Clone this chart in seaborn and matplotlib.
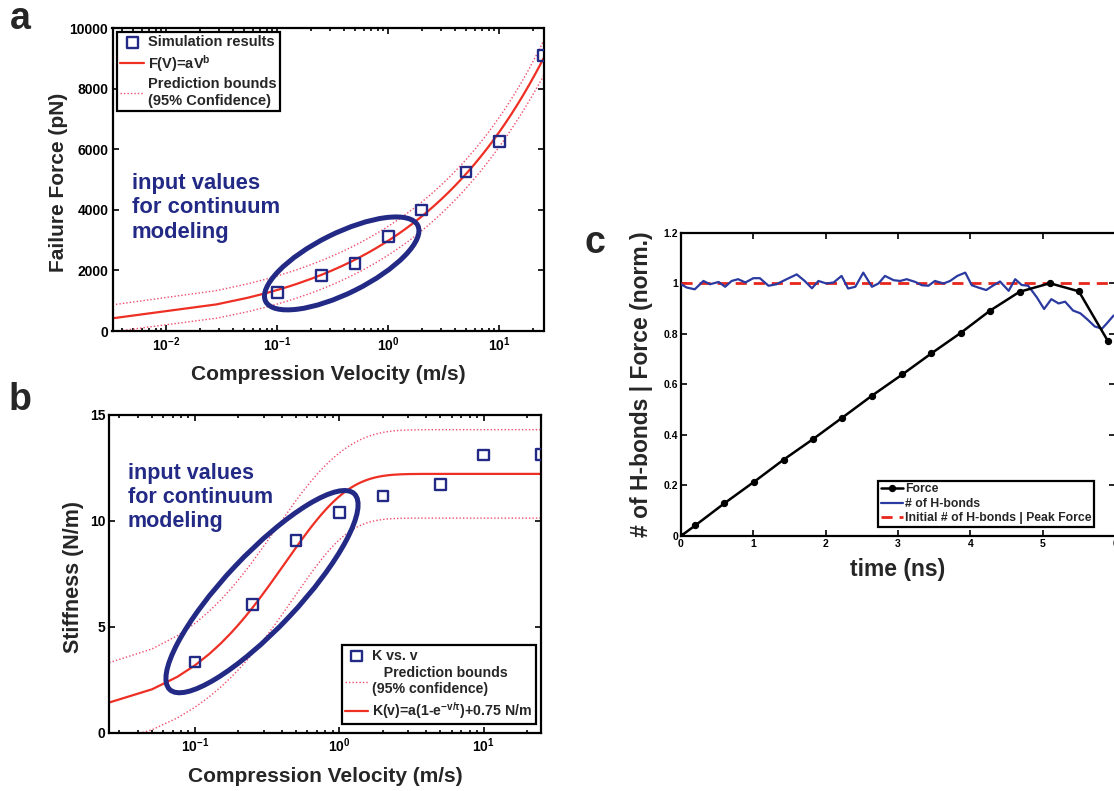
import numpy as np
import matplotlib
matplotlib.use("Agg")
import matplotlib.pyplot as plt
import matplotlib.patches as mpatches
import matplotlib.transforms as mtransforms
from matplotlib.ticker import FixedLocator, FuncFormatter, LogLocator, NullFormatter, LogFormatterSciNotation
import seaborn as sns

# ---------------- data ----------------
velocity_a = [0.1, 0.25, 0.5, 1, 2, 5, 10, 25]
failure_force = [1270, 1830, 2240, 3110, 4000, 5250, 6270, 9110]

velocity_b = [0.1, 0.25, 0.5, 1, 2, 5, 10, 25]
stiffness = [3.34, 6.05, 9.09, 10.40, 11.17, 11.72, 13.11, 13.12]
stiffness_offset = 0.75

force_time = [0, 0.2, 0.6, 1.01, 1.42, 1.83, 2.23, 2.64, 3.06, 3.46, 3.87, 4.27, 4.68, 5.10, 5.50, 5.90]
force_norm = [0, 0.042, 0.129, 0.214, 0.302, 0.384, 0.468, 0.555, 0.639, 0.722, 0.804,
              0.891, 0.966, 1.0, 0.968, 0.772]

hbond_time = [0.00, 0.08, 0.19, 0.31, 0.40, 0.52, 0.61, 0.70, 0.79, 0.89, 1.00, 1.09, 1.21,
              1.32, 1.46, 1.60, 1.71, 1.81, 1.90, 2.01, 2.11, 2.22, 2.31, 2.41, 2.52, 2.64,
              2.73, 2.82, 2.94, 3.03, 3.12, 3.24, 3.33, 3.42, 3.51, 3.63, 3.72, 3.82, 3.93,
              4.02, 4.11, 4.22, 4.31, 4.41, 4.53, 4.62, 4.71, 4.80, 4.92, 5.02, 5.12, 5.22,
              5.31, 5.42, 5.52, 5.61, 5.72, 5.82, 5.89, 5.98]
hbond_norm = [0.996, 0.983, 0.976, 1.009, 0.996, 1.005, 0.986, 1.009, 1.016, 1.003, 1.020,
              1.020, 0.990, 0.996, 1.016, 1.035, 1.009, 0.980, 1.009, 0.999, 1.003, 1.029,
              0.979, 0.986, 1.042, 0.986, 0.999, 1.029, 1.012, 1.009, 1.016, 1.005, 0.992,
              0.990, 1.009, 0.999, 1.009, 1.029, 1.042, 0.992, 0.983, 0.973, 0.990, 1.007,
              0.970, 1.016, 0.993, 0.990, 0.944, 0.898, 0.937, 0.920, 0.927, 0.892, 0.881,
              0.859, 0.829, 0.820, 0.842, 0.872]
reference_level = [1.0, 1.0]
reference_time = [0, 6]

label_sim = "Simulation results"
label_fit_a = "F(V)=aV$^{b}$"
label_bounds_a = "Prediction bounds\n(95% Confidence)"
label_sim_b = "K vs. v"
label_bounds_b = "   Prediction bounds\n(95% confidence)"
label_fit_b = "K(v)=a(1-e$^{-v/\\tau}$)+0.75 N/m"
label_force = "Force"
label_hb = "# of H-bonds"
label_ref = "Initial # of H-bonds | Peak Force"
annot_text = "input values\nfor continuum\nmodeling"


# ---------------- fitting helpers (nonlinear least squares + prediction bounds) ----------------
def gauss_newton(f, jac, p0, x, y, n_iter=300):
    p = np.array(p0, float)
    for _ in range(n_iter):
        r = y - f(x, p)
        J = jac(x, p)
        dp = np.linalg.lstsq(J, r, rcond=None)[0]
        p = p + 0.7 * dp
        if np.max(np.abs(dp / p)) < 1e-12:
            break
    return p


def prediction_band(f, jac, p, x, y, xg, t=2.4469):
    r = y - f(x, p)
    s2 = r @ r / (len(x) - len(p))
    J = jac(x, p)
    cov = s2 * np.linalg.inv(J.T @ J)
    G = jac(xg, p)
    var = s2 + np.einsum("ij,jk,ik->i", G, cov, G)
    yg = f(xg, p)
    d = t * np.sqrt(var)
    return yg, yg - d, yg + d


def f_pow(x, p):
    return p[0] * x ** p[1]


def j_pow(x, p):
    return np.column_stack([x ** p[1], p[0] * x ** p[1] * np.log(x)])


def f_exp(x, p):
    return p[0] * (1 - np.exp(-x / p[1])) + stiffness_offset


def j_exp(x, p):
    e = np.exp(-x / p[1])
    return np.column_stack([1 - e, -p[0] * e * x / p[1] ** 2])


# ---------------- style ----------------
sns.set_theme(style="ticks")
plt.rcParams.update({
    "font.family": ["Liberation Sans", "DejaVu Sans"],
    "font.weight": "bold",
    "axes.labelweight": "bold",
    "mathtext.fontset": "custom",
    "mathtext.rm": "Liberation Sans:bold",
    "mathtext.it": "Liberation Sans:bold",
    "mathtext.bf": "Liberation Sans:bold",
    "mathtext.default": "regular",
    "axes.edgecolor": "black",
    "axes.linewidth": 1.6,
    "xtick.color": "black",
    "ytick.color": "black",
    "axes.unicode_minus": False,
    "legend.numpoints": 1,
})

NAVY = "#232a86"
RED = "#ee2f24"
PINK = "#ef4d6c"

fig = plt.figure(figsize=(11.14, 7.91), dpi=100)
W, H = 1114, 791


def add_axes_px(left, top, right, bottom):
    return fig.add_axes([left / W, 1 - bottom / H, (right - left) / W, (bottom - top) / H])


def style_axes(ax, fs):
    ax.tick_params(which="both", direction="in", top=True, right=True, width=1.2,
                   labelsize=fs, pad=3, colors="black")
    ax.tick_params(which="major", length=4.5)
    ax.tick_params(which="minor", length=2.5)
    for s in ax.spines.values():
        s.set_visible(True)
        s.set_linewidth(1.6)
        s.set_color("black")


def draw_ellipse(ax, center, w, h, angle):
    cx, cy = ax.transData.transform(center)
    e = mpatches.Ellipse((cx, cy), w, h, angle=angle, fill=False, edgecolor=NAVY, lw=3.6,
                         transform=mtransforms.IdentityTransform(), zorder=5)
    ax.add_artist(e)


def log_axis(ax):
    ax.xaxis.set_major_locator(LogLocator(base=10, numticks=10))
    ax.xaxis.set_major_formatter(LogFormatterSciNotation())
    ax.xaxis.set_minor_locator(LogLocator(base=10, subs=np.arange(2, 10), numticks=20))
    ax.xaxis.set_minor_formatter(NullFormatter())


def boxed_legend(ax, order_labels, **kw):
    h, l = ax.get_legend_handles_labels()
    idx = [l.index(s) for s in order_labels]
    leg = ax.legend([h[i] for i in idx], [l[i] for i in idx], frameon=True, fancybox=False,
                    edgecolor="black", framealpha=1, borderaxespad=0, **kw)
    leg.get_frame().set_linewidth(1.6)
    return leg


# ---------------- panel a ----------------
ax_a = add_axes_px(112.5, 28.3, 543.5, 331)
ax_a.set_xscale("log")
va = np.array(velocity_a, float)
fa = np.array(failure_force, float)
pa = gauss_newton(f_pow, j_pow, [3000, 0.33], va, fa)
grid_a = np.linspace(0.00327, 25, 1000)
fit_a, lo_a, hi_a = prediction_band(f_pow, j_pow, pa, va, fa, grid_a)

sns.lineplot(x=grid_a, y=hi_a, ax=ax_a, color=PINK, lw=1.0, linestyle=(0, (1, 1.5)),
             sort=False, estimator=None, label=label_bounds_a)
sns.lineplot(x=grid_a, y=lo_a, ax=ax_a, color=PINK, lw=1.0, linestyle=(0, (1, 1.5)),
             sort=False, estimator=None)
sns.lineplot(x=grid_a, y=fit_a, ax=ax_a, color=RED, lw=1.6, sort=False, estimator=None,
             label=label_fit_a)
sns.scatterplot(x=va, y=fa, ax=ax_a, marker="s", s=60, facecolor="none", edgecolor=NAVY,
                linewidth=1.7, label=label_sim, zorder=6)
ax_a.set_xlim(0.00327, 25)
ax_a.set_ylim(0, 10000)
ax_a.yaxis.set_major_locator(FixedLocator([0, 2000, 4000, 6000, 8000, 10000]))
ax_a.yaxis.set_major_formatter(FuncFormatter(lambda v, p: f"{v:.0f}"))
log_axis(ax_a)
style_axes(ax_a, 10)
ax_a.set_xlabel("Compression Velocity (m/s)", fontsize=15)
ax_a.set_ylabel("Failure Force (pN)", fontsize=15)
ax_a.xaxis.set_label_coords(0.5, -0.112)
ax_a.yaxis.set_label_coords(-0.103, 0.49)
boxed_legend(ax_a, [label_sim, label_fit_a, label_bounds_a], loc="upper left",
             bbox_to_anchor=(0.010, 0.989), fontsize=10.5, borderpad=0.25,
             labelspacing=0.25, handlelength=1.6, handletextpad=0.3)
ax_a.text(0.045, 0.521, annot_text, transform=ax_a.transAxes, color=NAVY, fontsize=15.8,
          fontweight="bold", va="top", ha="left", linespacing=1.2)
draw_ellipse(ax_a, (0.38, 2233), 170, 60, 26.5)

# ---------------- panel b ----------------
ax_b = add_axes_px(109.3, 415, 541.3, 732.7)
ax_b.set_xscale("log")
vb = np.array(velocity_b, float)
kb = np.array(stiffness, float)
pb = gauss_newton(f_exp, j_exp, [11.5, 0.45], vb, kb)
grid_b = np.linspace(0.0255, 25, 1000)
fit_b, lo_b, hi_b = prediction_band(f_exp, j_exp, pb, vb, kb, grid_b)

sns.lineplot(x=grid_b, y=hi_b, ax=ax_b, color=PINK, lw=1.0, linestyle=(0, (1, 1.5)),
             sort=False, estimator=None, label=label_bounds_b)
sns.lineplot(x=grid_b, y=lo_b, ax=ax_b, color=PINK, lw=1.0, linestyle=(0, (1, 1.5)),
             sort=False, estimator=None)
sns.lineplot(x=grid_b, y=fit_b, ax=ax_b, color=RED, lw=1.6, sort=False, estimator=None,
             label=label_fit_b)
sns.scatterplot(x=vb, y=kb, ax=ax_b, marker="s", s=60, facecolor="none", edgecolor=NAVY,
                linewidth=1.7, label=label_sim_b, zorder=6)
ax_b.set_xlim(0.0255, 25)
ax_b.set_ylim(0, 15)
ax_b.yaxis.set_major_locator(FixedLocator([0, 5, 10, 15]))
ax_b.yaxis.set_major_formatter(FuncFormatter(lambda v, p: f"{v:.0f}"))
log_axis(ax_b)
style_axes(ax_b, 10)
ax_b.set_xlabel("Compression Velocity (m/s)", fontsize=15)
ax_b.set_ylabel("Stiffness (N/m)", fontsize=15.5)
ax_b.xaxis.set_label_coords(0.5, -0.108)
ax_b.yaxis.set_label_coords(-0.059, 0.49)
boxed_legend(ax_b, [label_sim_b, label_bounds_b, label_fit_b], loc="lower right",
             bbox_to_anchor=(0.987, 0.026), fontsize=10.2, borderpad=0.25,
             labelspacing=0.25, handlelength=1.6, handletextpad=0.3)
ax_b.text(0.043, 0.849, annot_text, transform=ax_b.transAxes, color=NAVY, fontsize=15.5,
          fontweight="bold", va="top", ha="left", linespacing=1.2)
draw_ellipse(ax_b, (0.291, 6.66), 269, 74, 46.7)

# ---------------- panel c ----------------
ax_c = add_axes_px(681, 232.7, 1115, 535.9)
sns.lineplot(x=reference_time, y=reference_level, ax=ax_c, color="#e8261c", lw=2.0,
             linestyle=(0, (4, 2.5)), sort=False, estimator=None, label=label_ref, zorder=3)
sns.lineplot(x=hbond_time, y=hbond_norm, ax=ax_c, color="#2a3aa0", lw=1.6, sort=False,
             estimator=None, label=label_hb, zorder=4)
sns.lineplot(x=force_time, y=force_norm, ax=ax_c, color="black", lw=1.8, marker="o",
             markersize=4.5, markeredgecolor="black", sort=False, estimator=None,
             label=label_force, zorder=5)
ax_c.set_xlim(0, 6)
ax_c.set_ylim(0, 1.2)
ax_c.xaxis.set_major_locator(FixedLocator([0, 1, 2, 3, 4, 5, 6]))
ax_c.yaxis.set_major_locator(FixedLocator([0, 0.2, 0.4, 0.6, 0.8, 1.0, 1.2]))
ax_c.xaxis.set_major_formatter(FuncFormatter(lambda v, p: f"{v:g}"))
ax_c.yaxis.set_major_formatter(FuncFormatter(lambda v, p: f"{v:g}"))
style_axes(ax_c, 7.5)
ax_c.tick_params(which="major", pad=2)
ax_c.set_xlabel("time (ns)", fontsize=16.5)
ax_c.set_ylabel("# of H-bonds | Force (norm.)", fontsize=16.5)
ax_c.xaxis.set_label_coords(0.5, -0.072)
ax_c.yaxis.set_label_coords(-0.064, 0.5)
boxed_legend(ax_c, [label_force, label_hb, label_ref], loc="lower right",
             bbox_to_anchor=(0.952, 0.03), fontsize=8.8, borderpad=0.2, labelspacing=0.2,
             handlelength=1.8, handletextpad=0.2)

# ---------------- panel letters ----------------
fig.text(10 / W, 1 - 29 / H, "a", fontsize=27, fontweight="bold", ha="left", va="baseline")
fig.text(9 / W, 1 - 410 / H, "b", fontsize=27, fontweight="bold", ha="left", va="baseline")
fig.text(584 / W, 1 - 253 / H, "c", fontsize=27, fontweight="bold", ha="left", va="baseline")

fig.savefig("out.png", dpi=100)
